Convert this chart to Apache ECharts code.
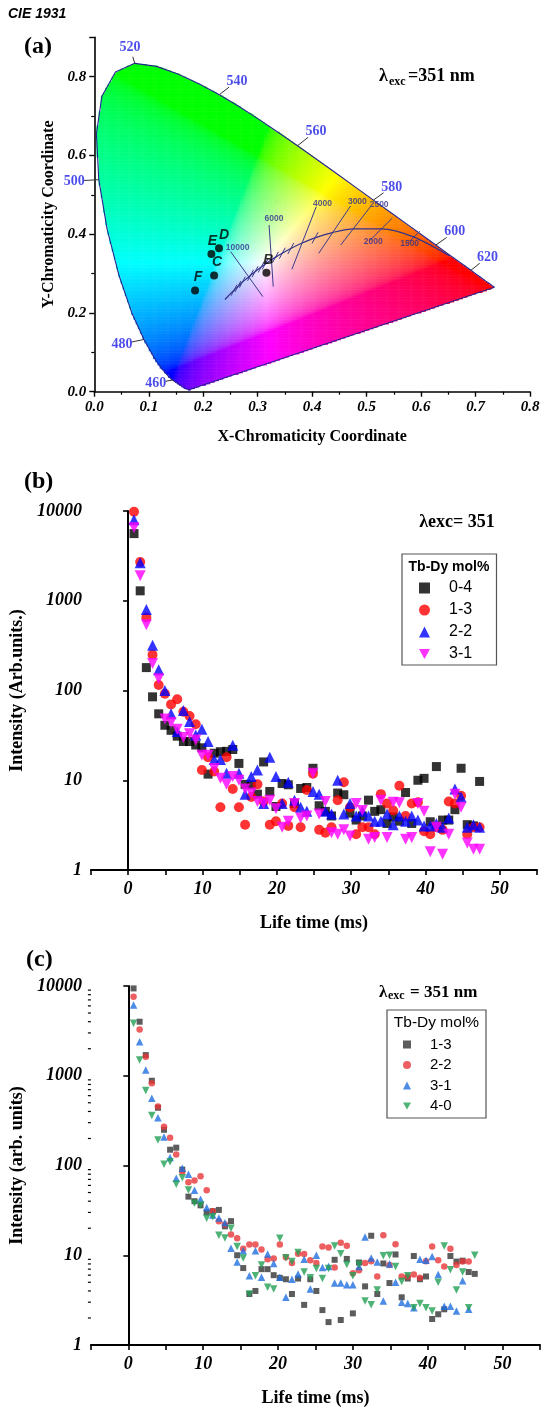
<!DOCTYPE html>
<html><head><meta charset="utf-8">
<script src="https://cdn.jsdelivr.net/npm/echarts@6.0.0/dist/echarts.min.js"></script>
<style>html,body{margin:0;padding:0;background:#fff}#c{width:547px;height:1410px}</style>
</head><body><div id="c"></div><script>
// ---------------- DATA ----------------
// CIE 1931 spectral locus (wavelength nm, x, y)
const locusNm = [380,390,400,410,420,430,440,445,450,455,460,465,470,475,480,485,490,495,500,505,510,515,520,525,530,535,540,545,550,555,560,565,570,575,580,585,590,595,600,605,610,615,620,625,630,640,650,660,680,700];
const locusX = [0.1741,0.1738,0.1733,0.1726,0.1714,0.1689,0.1644,0.1611,0.1566,0.1510,0.1440,0.1355,0.1241,0.1096,0.0913,0.0687,0.0454,0.0235,0.0082,0.0039,0.0139,0.0389,0.0743,0.1142,0.1547,0.1929,0.2296,0.2658,0.3016,0.3373,0.3731,0.4087,0.4441,0.4788,0.5125,0.5448,0.5752,0.6029,0.6270,0.6482,0.6658,0.6801,0.6915,0.7006,0.7079,0.7190,0.7260,0.7300,0.7334,0.7347];
const locusY = [0.0050,0.0049,0.0048,0.0048,0.0051,0.0069,0.0109,0.0138,0.0177,0.0227,0.0297,0.0399,0.0578,0.0868,0.1327,0.2007,0.2950,0.4127,0.5384,0.6548,0.7502,0.8120,0.8338,0.8262,0.8059,0.7816,0.7543,0.7243,0.6923,0.6589,0.6245,0.5896,0.5547,0.5202,0.4866,0.4544,0.4242,0.3965,0.3725,0.3514,0.3340,0.3197,0.3083,0.2993,0.2920,0.2809,0.2740,0.2700,0.2666,0.2653];
const labelNm = [460,480,500,520,540,560,580,600,620];
// Planckian locus
const planckT = [1000,1500,2000,2500,3000,3500,4000,4500,5000,5500,6000,6500,7000,8000,9000,10000,12000,15000,20000,30000,50000,1e9];
const planckX = [0.6528,0.5857,0.5267,0.4770,0.4369,0.4053,0.3805,0.3608,0.3451,0.3325,0.3221,0.3135,0.3064,0.2952,0.2869,0.2807,0.2719,0.2637,0.2565,0.2501,0.2452,0.2399];
const planckY = [0.3444,0.3931,0.4133,0.4137,0.4041,0.3907,0.3768,0.3636,0.3516,0.3411,0.3318,0.3237,0.3166,0.3048,0.2956,0.2883,0.2782,0.2672,0.2577,0.2489,0.2418,0.2342];
const planckTickT = [20000,15000,12000,9000,8000,7000,6500,5500,5000,4500,3500];
const isoNames = ['10000','6000','4000','3000','2500','2000','1500'];
const isoX1 = [0.2505,0.3209,0.4075,0.4705,0.5070,0.5468,0.5976];
const isoY1 = [0.3556,0.4234,0.4698,0.4716,0.4698,0.4404,0.4076];
const isoX2 = [0.3095,0.3286,0.3628,0.4121,0.4525,0.5064,0.5755];
const isoY2 = [0.2413,0.2667,0.3109,0.3515,0.3726,0.3846,0.3771];
// sample chromaticity points
const pointNames = ['B','C','D','E','F'];
const pointX = [0.316,0.220,0.229,0.215,0.185];
const pointY = [0.302,0.295,0.364,0.350,0.257];

// Panel (b) decay curves
const timeB = [0.8,1.63,2.46,3.29,4.12,4.95,5.78,6.61,7.44,8.27,9.1,9.93,10.76,11.59,12.42,13.25,14.08,14.91,15.74,16.57,17.4,18.23,19.06,19.89,20.72,21.55,22.38,23.21,24.04,24.87,25.7,26.53,27.36,28.19,29.02,29.85,30.68,31.51,32.34,33.17,34,34.83,35.66,36.49,37.32,38.15,38.98,39.81,40.64,41.47,42.3,43.13,43.96,44.79,45.62,46.45,47.28];
const b04 = [5600,1290,180,85,55,41,36,31,27,27,24.7,23,11.7,20,20.8,21,22,15.4,9,8.9,7,16,7.5,5.1,9.2,8.9,5.5,8.1,8.3,13.6,5.2,4.5,4,7.2,6.9,4.3,3.6,4,6,4.5,4.7,3.3,3.9,3.5,7.3,3.3,10,10.5,3.45,14.2,3.6,3.6,4.7,13.6,3.2,3.1,9.7];
const b13 = [9800,2700,650,250,115,92,70,80,58,52,42,13,18,12.5,5,18,8,5,3.2,6.5,9,5.8,3.2,3.5,5.5,3.1,5,3,7.8,11.8,2.8,2.6,3,6,9.5,5,2.5,3,3,2.5,7,5.5,4.6,8.7,4,5.5,5.7,2.7,2.5,3,2.8,5.8,5.5,6.7,2.5,3,3];
const b22 = [8000,2650,800,320,170,100,55,35,60,45,32,37,27,17,17,12,24.5,12,7,11,13,5.5,18,11,5.5,9.5,6,5,4.5,7.5,7,4.5,4.2,10,4.2,5.5,4,4.5,4,3.5,3.5,4.2,3.2,4,3.5,4,3.6,3.1,3.1,3.3,3,3.8,8,6.5,3,3.2,3];
const b31 = [6500,1900,540,200,135,48,44,37,30,33,28,19,19,13.5,10.5,9,11,10,8,7.2,5.8,5.5,6,4.8,3,3.5,5.5,3.8,4,12,4.2,5.8,2.6,2.5,2.8,2.4,5.5,4.6,2.2,2.3,6,2.3,5.7,5.6,2.2,2.3,5.5,4.5,1.6,3,1.5,2.5,7,5,2,1.7,1.7];

// Panel (c) decay curves
const timeC = [0.7,1.51,2.33,3.14,3.96,4.77,5.58,6.4,7.21,8.03,8.84,9.65,10.47,11.28,12.1,12.91,13.72,14.54,15.35,16.17,16.98,17.79,18.61,19.42,20.24,21.05,21.86,22.68,23.49,24.31,25.12,25.93,26.75,27.56,28.38,29.19,30,30.82,31.63,32.45,33.26,34.07,34.89,35.7,36.52,37.33,38.14,38.96,39.77,40.59,41.4,42.21,43.03,43.84,44.66,45.47,46.28];
const c13 = [9400,4000,1700,880,440,250,150,158,90,45,40,36,30,31,32,21,24,10,7.2,3.7,4.0,7.0,7.0,6.0,5.6,5.4,3.7,5.5,2.8,5.4,4.0,2.45,1.8,8.9,1.9,9.1,2.25,8.3,4.5,16.5,3.7,8.1,4.9,10.2,3.4,5.5,9.8,5.4,5.8,1.95,2.2,2.5,9.8,8.5,8.7,6.5,6.2];
const c22 = [7600,3280,1630,824,453,270,204,133,85,65,68,76,53,31,24,22,17,15.5,11.8,13.2,13.2,11.6,9,9.2,13.2,9.5,8.2,10.4,10.3,8.8,8.2,12.5,12.2,7.3,13.8,12.8,6.3,6.8,8.2,8.6,5.8,16.7,7.8,13.3,5.8,5.8,6.1,5.6,8.6,12.5,8.8,7.5,11.8,7.8,8.5,8.5,null];
const c31 = [6140,2400,1160,561,341,208,123,72,93,80,53,42,34,28,26,23,12,8.4,11.2,5.9,11.2,5.7,10.3,8.1,5.7,3.4,5.4,6.2,9,4.2,10,7.3,7.5,4.9,4.9,4.7,4.7,7.5,16,9.3,8.4,3.1,8,5,3,2.9,2.6,9,8.8,9.7,6.1,2.7,2.7,2.4,5.2,2.5,null];
const c40 = [3840,1500,683,360,192,103,110,62,73,53.5,37.9,36.3,25.8,26.9,16.7,15.6,20,12.5,9.3,3.7,5.9,7.8,4.4,4.2,15.5,9.4,8.5,10.7,6.5,5.6,7.1,5.5,7.1,12.7,10.4,7.9,5.9,7.9,3.1,2.8,4.1,9.9,10,7.5,5.1,5.9,2.6,2.9,2.6,2.4,5.0,12.7,6.9,4.1,6.5,2.6,10];

const logTicksY = [1,10,100,1000,10000];

// ---------------- helpers ----------------
const SERIF = '"Liberation Serif","Times New Roman",serif';
const SANS = '"Liberation Sans",Arial,sans-serif';
const DOWN_TRI = 'path://M0,0L10,0L5,9Z';
const zip = (xs, ys) => xs.map((x, i) => [x, ys[i]]);
const locusPoly = zip(locusX, locusY);

function insidePoly(x, y, poly) {
  let c = false;
  for (let i = 0, j = poly.length - 1; i < poly.length; j = i++) {
    const xi = poly[i][0], yi = poly[i][1], xj = poly[j][0], yj = poly[j][1];
    if (((yi > y) !== (yj > y)) && (x < (xj - xi) * (y - yi) / (yj - yi) + xi)) c = !c;
  }
  return c;
}
function gam(c) { return c <= 0.0031308 ? 12.92 * c : 1.055 * Math.pow(c, 1 / 2.4) - 0.055; }
function xyColor(x, y) {
  const X = x / y, Y = 1, Z = (1 - x - y) / y;
  let r = 3.2406 * X - 1.5372 * Y - 0.4986 * Z;
  let g = -0.9689 * X + 1.8758 * Y + 0.0415 * Z;
  let b = 0.0557 * X - 0.2040 * Y + 1.0570 * Z;
  r = Math.max(r, 0); g = Math.max(g, 0); b = Math.max(b, 0);
  const m = Math.max(r, g, b);
  r = gam(r / m); g = gam(g / m); b = gam(b / m);
  return 'rgb(' + Math.round(r * 255) + ',' + Math.round(g * 255) + ',' + Math.round(b * 255) + ')';
}
// colour field cells (inside the spectral locus)
const STEP = 0.004;
const cells = [], cellColors = [];
for (let x = STEP / 2; x < 0.74; x += STEP) {
  for (let y = STEP / 2; y < 0.84; y += STEP) {
    if (insidePoly(x, y, locusPoly)) { cells.push([x, y]); cellColors.push(xyColor(x, y)); }
  }
}

// annotation layout for the wavelength labels (data coordinates)
const wlLabelPos = {460:[0.113,0.022],480:[0.051,0.121],500:[-0.037,0.535],520:[0.0655,0.875],540:[0.262,0.789],560:[0.407,0.662],580:[0.546,0.52],600:[0.662,0.406],620:[0.722,0.342]};
const isoLabelPos = [[0.263,0.366],[0.330,0.440],[0.419,0.478],[0.483,0.482],[0.523,0.474],[0.512,0.380],[0.579,0.375]];
const pointLabelOffset = [[2,0],[3,0],[5,0],[1,0],[3,0]];

const chart = echarts.init(document.getElementById('c'));

const axisLineStyle = { color: '#000', width: 1.6 };
function linAxisLabel(size) {
  return { fontFamily: SERIF, fontWeight: 'bold', fontStyle: 'italic', fontSize: size, color: '#000' };
}

const series = [];
// ---- panel (a)
series.push({
  type: 'custom', xAxisIndex: 0, yAxisIndex: 0, silent: true, z: 1, progressive: 0,
  data: cells, clip: false,
  renderItem: function (params, api) {
    const x = api.value(0), y = api.value(1);
    const p = api.coord([x - STEP / 2, y + STEP / 2]);
    const q = api.coord([x + STEP / 2, y - STEP / 2]);
    return { type: 'rect', shape: { x: p[0], y: p[1], width: q[0] - p[0] + 0.5, height: q[1] - p[1] + 0.5 },
      style: { fill: cellColors[params.dataIndex] } };
  }
});
series.push({
  type: 'line', xAxisIndex: 0, yAxisIndex: 0, z: 3, symbol: 'none', silent: true,
  data: locusPoly.concat([locusPoly[0]]),
  lineStyle: { color: '#24248f', width: 1.1 }
});
// wavelength ticks
series.push({
  type: 'custom', xAxisIndex: 0, yAxisIndex: 0, z: 4, silent: true, clip: false,
  data: labelNm.map(nm => { const i = locusNm.indexOf(nm); return [locusX[i], locusY[i], wlLabelPos[nm][0], wlLabelPos[nm][1]]; }),
  renderItem: function (params, api) {
    const p = api.coord([api.value(0), api.value(1)]);
    const q = api.coord([api.value(2), api.value(3)]);
    const dx = q[0] - p[0], dy = q[1] - p[1], d = Math.sqrt(dx * dx + dy * dy);
    const f = Math.max(d - 10, 3) / d;
    return { type: 'line', shape: { x1: p[0], y1: p[1], x2: p[0] + dx * f, y2: p[1] + dy * f },
      style: { stroke: '#333', lineWidth: 1 } };
  }
});
series.push({
  type: 'scatter', xAxisIndex: 0, yAxisIndex: 0, z: 5, silent: true, clip: false, symbolSize: 0,
  data: labelNm.map(nm => ({ name: String(nm), value: wlLabelPos[nm] })),
  label: { show: true, position: 'inside', formatter: '{b}', fontFamily: SERIF, fontWeight: 'bold', fontSize: 14, color: '#1f1fe6' }
});
// Planckian locus
series.push({
  type: 'line', xAxisIndex: 0, yAxisIndex: 0, z: 4, symbol: 'none', silent: true, smooth: 0.3,
  data: zip(planckX, planckY), lineStyle: { color: '#33338a', width: 1.2 }
});
series.push({
  type: 'custom', xAxisIndex: 0, yAxisIndex: 0, z: 4, silent: true,
  data: zip(isoX1, isoY1).map((p, i) => [p[0], p[1], isoX2[i], isoY2[i]]),
  renderItem: function (params, api) {
    const p = api.coord([api.value(0), api.value(1)]);
    const q = api.coord([api.value(2), api.value(3)]);
    return { type: 'line', shape: { x1: p[0], y1: p[1], x2: q[0], y2: q[1] }, style: { stroke: '#3a3a8c', lineWidth: 1 } };
  }
});
series.push({
  type: 'custom', xAxisIndex: 0, yAxisIndex: 0, z: 4, silent: true,
  data: planckTickT.map(t => { const i = planckT.indexOf(t); return [planckX[i], planckY[i]]; }),
  renderItem: function (params, api) {
    const p = api.coord([api.value(0), api.value(1)]);
    return { type: 'line', shape: { x1: p[0] - 3, y1: p[1] + 5.5, x2: p[0] + 3, y2: p[1] - 5.5 }, style: { stroke: '#3a3a8c', lineWidth: 1 } };
  }
});
series.push({
  type: 'scatter', xAxisIndex: 0, yAxisIndex: 0, z: 5, silent: true, symbolSize: 0,
  data: isoNames.map((n, i) => ({ name: n, value: isoLabelPos[i] })),
  label: { show: true, position: 'inside', formatter: '{b}', fontFamily: SANS, fontWeight: 'bold', fontSize: 8.5, color: '#303090' }
});
series.push({
  type: 'scatter', xAxisIndex: 0, yAxisIndex: 0, z: 6, silent: true, symbol: 'circle', symbolSize: 8,
  itemStyle: { color: '#000' },
  data: pointNames.map((n, i) => ({ name: n, value: [pointX[i], pointY[i]], label: { offset: pointLabelOffset[i] } })),
  label: { show: true, position: 'top', distance: 2, formatter: '{b}', fontFamily: SANS, fontWeight: 'bold', fontStyle: 'italic', fontSize: 14, color: '#000' }
});

// ---- panel (b)
const bSeries = [['b:0-4', b04, 'rect', '#000000', 9], ['b:1-3', b13, 'circle', '#ff0000', 10], ['b:2-2', b22, 'triangle', '#0000ff', 11], ['b:3-1', b31, DOWN_TRI, '#ff00ff', 11]];
bSeries.forEach(s => series.push({
  type: 'scatter', name: s[0], xAxisIndex: 1, yAxisIndex: 1, symbol: s[2], symbolSize: s[4],
  itemStyle: { color: s[3] }, data: timeB.map((t, i) => [t, s[1][i]]).filter(d => d[1] != null)
}));
// ---- panel (c)
const cSeries = [['c:1-3', c13, 'rect', '#333333', 6], ['c:2-2', c22, 'circle', '#e8363a', 6.5], ['c:3-1', c31, 'triangle', '#1f6fe0', 7.5], ['c:4-0', c40, DOWN_TRI, '#23a055', 7.5]];
cSeries.forEach(s => series.push({
  type: 'scatter', name: s[0], xAxisIndex: 2, yAxisIndex: 2, symbol: s[2], symbolSize: s[4],
  itemStyle: { color: s[3] }, data: timeC.map((t, i) => [t, s[1][i]]).filter(d => d[1] != null)
}));
// log minor ticks on panel (c)
const minorVals = [];
logTicksY.slice(0, 4).forEach(d => { for (let k = 2; k <= 9; k++) minorVals.push([-5, d * k]); });
series.push({
  type: 'custom', xAxisIndex: 2, yAxisIndex: 2, silent: true, clip: false, data: minorVals,
  renderItem: function (params, api) {
    const p = api.coord([api.value(0), api.value(1)]);
    return { type: 'line', shape: { x1: p[0] - 3, y1: p[1], x2: p[0], y2: p[1] }, style: { stroke: '#000', lineWidth: 1.2 } };
  }
});

function timeAxis(gi, nameGap) {
  return {
    gridIndex: gi, type: 'value', min: -5, max: 55, interval: 5,
    name: 'Life time (ms)', nameLocation: 'middle', nameGap: nameGap,
    nameTextStyle: { fontFamily: SERIF, fontWeight: 'bold', fontSize: 18, color: '#000' },
    axisLine: { lineStyle: { color: '#000', width: 2 } },
    axisTick: { length: 5, lineStyle: { width: 1.6 } },
    axisLabel: Object.assign(linAxisLabel(18), { margin: 10, formatter: v => (v % 10 === 0 ? String(v) : '') }),
    splitLine: { show: false }
  };
}
function logAxis(gi, name, nameGap) {
  return {
    gridIndex: gi, type: 'log', logBase: 10, min: 1, max: 10000,
    name: name, nameLocation: 'middle', nameGap: nameGap,
    nameTextStyle: { fontFamily: SERIF, fontWeight: 'bold', fontSize: 18, color: '#000' },
    axisLine: { lineStyle: { color: '#000', width: 2 } },
    axisTick: { length: 5, lineStyle: { width: 1.6 } },
    axisLabel: Object.assign(linAxisLabel(18), { margin: 9, formatter: v => String(Math.round(v)) }),
    splitLine: { show: false }
  };
}

const legendCommon = { orient: 'vertical', selectedMode: false, padding: 0, formatter: n => n.slice(2) };
function legendData(list) {
  return list.map(s => (s[2] === DOWN_TRI ? { name: s[0], icon: DOWN_TRI } : { name: s[0] }));
}

const option = {
  animation: false,
  backgroundColor: '#fff',
  grid: [
    { left: 94.3, top: 37.3, width: 435.7, height: 354.4 },
    { left: 86, top: 511, width: 451, height: 359 },
    { left: 90, top: 986, width: 450, height: 359 }
  ],
  xAxis: [
    { gridIndex: 0, type: 'value', min: 0, max: 0.8, interval: 0.1,
      name: 'X-Chromaticity Coordinate', nameLocation: 'middle', nameGap: 37,
      nameTextStyle: { fontFamily: SERIF, fontWeight: 'bold', fontSize: 16, color: '#000' },
      axisLine: { lineStyle: axisLineStyle }, axisTick: { length: 5, lineStyle: { width: 1.4 } },
      minorTick: { show: true, splitNumber: 2, length: 3, lineStyle: { color: '#000', width: 1.2 } },
      axisLabel: Object.assign(linAxisLabel(15), { margin: 8, formatter: v => v.toFixed(1) }), splitLine: { show: false } },
    timeAxis(1, 44), timeAxis(2, 44)
  ],
  yAxis: [
    { gridIndex: 0, type: 'value', min: 0, max: 0.9, interval: 0.2,
      name: 'Y-Chromaticity Coordinate', nameLocation: 'middle', nameGap: 36,
      nameTextStyle: { fontFamily: SERIF, fontWeight: 'bold', fontSize: 16, color: '#000' },
      axisLine: { lineStyle: axisLineStyle }, axisTick: { length: 5, lineStyle: { width: 1.4 } },
      minorTick: { show: true, splitNumber: 2, length: 3, lineStyle: { color: '#000', width: 1.2 } },
      axisLabel: Object.assign(linAxisLabel(15), { margin: 8, formatter: v => (v > 0.85 ? '' : v.toFixed(1)) }), splitLine: { show: false } },
    logAxis(1, 'Intensity (Arb.units.)', 60), logAxis(2, 'Intensity (arb. units)', 64)
  ],
  legend: [
    Object.assign({}, legendCommon, { left: 419, top: 580, itemWidth: 11, itemHeight: 11, itemGap: 6,
      data: legendData(bSeries), textStyle: { fontFamily: SANS, fontSize: 16, lineHeight: 16, color: '#000', padding: [0, 0, 0, 14] } }),
    Object.assign({}, legendCommon, { left: 403, top: 1037, itemWidth: 8, itemHeight: 8, itemGap: 5.5,
      data: legendData(cSeries), textStyle: { fontFamily: SANS, fontSize: 15, lineHeight: 15, color: '#000', padding: [0, 0, 0, 14] } })
  ],
  graphic: [
    { type: 'text', x: 8, y: 14, style: { text: 'CIE 1931', fontFamily: SANS, fontWeight: 'bold', fontStyle: 'italic', fontSize: 14, fill: '#000', verticalAlign: 'middle' } },
    { type: 'text', x: 24, y: 47, style: { text: '(a)', fontFamily: SERIF, fontWeight: 'bold', fontSize: 24, fill: '#000', verticalAlign: 'middle' } },
    { type: 'text', x: 24, y: 482, style: { text: '(b)', fontFamily: SERIF, fontWeight: 'bold', fontSize: 24, fill: '#000', verticalAlign: 'middle' } },
    { type: 'text', x: 26, y: 960, style: { text: '(c)', fontFamily: SERIF, fontWeight: 'bold', fontSize: 24, fill: '#000', verticalAlign: 'middle' } },
    // (a) lambda
    { type: 'text', x: 379, y: 76, style: { text: 'λ', fontFamily: SERIF, fontWeight: 'bold', fontSize: 18, fill: '#000', verticalAlign: 'middle' } },
    { type: 'text', x: 389, y: 82, style: { text: 'exc', fontFamily: SERIF, fontWeight: 'bold', fontSize: 12, fill: '#000', verticalAlign: 'middle' } },
    { type: 'text', x: 408, y: 76, style: { text: '=351 nm', fontFamily: SERIF, fontWeight: 'bold', fontSize: 18, fill: '#000', verticalAlign: 'middle' } },
    { type: 'text', x: 266, y: 202, style: { text: 'T', fontFamily: SANS, fontSize: 13, fill: '#222', align: 'right', verticalAlign: 'middle' } },
    { type: 'text', x: 266, y: 207, style: { text: 'c', fontFamily: SANS, fontSize: 7, fill: '#222', verticalAlign: 'middle' } },
    { type: 'text', x: 270, y: 202, style: { text: '(K)', fontFamily: SANS, fontSize: 13, fill: '#222', verticalAlign: 'middle' } },
    { type: 'text', x: 229, y: 293, rotation: 0.9, style: { text: '∞', fontFamily: SANS, fontSize: 9, fill: '#303090', align: 'center', verticalAlign: 'middle' } },
    // (b) annotations
    { type: 'text', x: 457, y: 522, style: { text: 'λexc= 351', fontFamily: SERIF, fontWeight: 'bold', fontSize: 18, fill: '#000', align: 'center', verticalAlign: 'middle' } },
    { type: 'rect', shape: { x: 402, y: 554, width: 94.5, height: 111 }, style: { fill: 'none', stroke: '#555', lineWidth: 1.2 } },
    { type: 'text', x: 449, y: 567, style: { text: 'Tb-Dy mol%', fontFamily: SANS, fontWeight: 'bold', fontSize: 14, fill: '#000', align: 'center', verticalAlign: 'middle' } },
    // (c) annotations
    { type: 'text', x: 379, y: 993, style: { text: 'λ', fontFamily: SERIF, fontWeight: 'bold', fontSize: 17, fill: '#000', verticalAlign: 'middle' } },
    { type: 'text', x: 388, y: 996, style: { text: 'exc', fontFamily: SERIF, fontWeight: 'bold', fontSize: 12, fill: '#000', verticalAlign: 'middle' } },
    { type: 'text', x: 410, y: 993, style: { text: '= 351 nm', fontFamily: SERIF, fontWeight: 'bold', fontSize: 17, fill: '#000', verticalAlign: 'middle' } },
    { type: 'rect', shape: { x: 387, y: 1010, width: 99, height: 108 }, style: { fill: 'none', stroke: '#555', lineWidth: 1.2 } },
    { type: 'text', x: 436.5, y: 1023, style: { text: 'Tb-Dy mol%', fontFamily: SANS, fontSize: 15.5, fill: '#000', align: 'center', verticalAlign: 'middle' } }
  ],
  series: series
};
chart.setOption(option);
</script></body></html>
